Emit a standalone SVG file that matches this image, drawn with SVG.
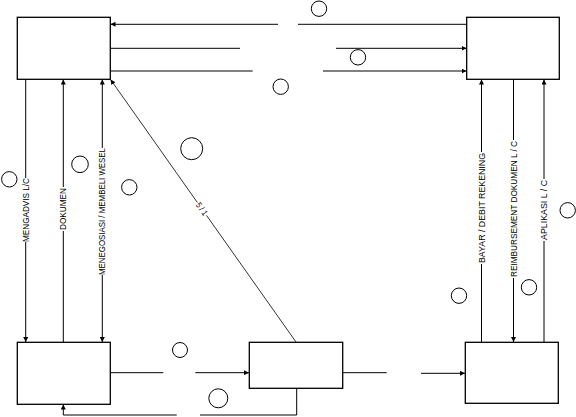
<svg xmlns="http://www.w3.org/2000/svg" width="576" height="417" viewBox="0 0 576 417">
<style>
.box{fill:#fff;stroke:#000;stroke-width:1.3}
.ln{fill:none;stroke:#000;stroke-width:1}
.thin{fill:none;stroke:#000;stroke-width:0.8}
.c{fill:none;stroke:#000;stroke-width:1}
.t{font-family:"Liberation Sans Narrow","Liberation Sans",Arial,sans-serif;font-size:8.5px;fill:#000}
</style>
<defs>
<marker id="ar" viewBox="0 0 6 6" refX="6" refY="3" markerUnits="userSpaceOnUse" markerWidth="5" markerHeight="5" orient="auto">
<path d="M0,0 L6,3 L0,6 z" fill="#000"/>
</marker>
</defs>
<rect width="576" height="417" fill="#fff"/>
<g id="connectors">
<!-- top horizontals -->
<line class="ln" x1="278" y1="24.3" x2="110.5" y2="24.3" marker-end="url(#ar)"/>
<line class="ln" x1="298" y1="24.3" x2="467" y2="24.3"/>
<line class="ln" x1="110" y1="48.3" x2="240" y2="48.3"/>
<line class="ln" x1="336" y1="48.3" x2="466.5" y2="48.3" marker-end="url(#ar)"/>
<line class="ln" x1="110" y1="71" x2="252.7" y2="71"/>
<line class="ln" x1="323" y1="71" x2="466.5" y2="71" marker-end="url(#ar)"/>
<!-- left verticals -->
<line class="ln" x1="25.7" y1="79" x2="25.7" y2="178"/>
<line class="ln" x1="25.7" y1="242" x2="25.7" y2="342" marker-end="url(#ar)"/>
<line class="ln" x1="63.3" y1="342" x2="63.3" y2="231"/>
<line class="ln" x1="63.3" y1="187" x2="63.3" y2="79.5" marker-end="url(#ar)"/>
<line class="ln" x1="102.3" y1="148" x2="102.3" y2="79.5" marker-end="url(#ar)"/>
<line class="ln" x1="102.3" y1="275" x2="102.3" y2="342" marker-end="url(#ar)"/>
<!-- diagonal -->
<line class="thin" x1="296" y1="342" x2="206.5" y2="215.4"/>
<line class="thin" x1="197.3" y1="202.4" x2="110.6" y2="79.6" marker-end="url(#ar)"/>
<!-- right verticals -->
<line class="ln" x1="481.5" y1="342" x2="481.5" y2="264"/>
<line class="ln" x1="481.5" y1="152" x2="481.5" y2="79.5" marker-end="url(#ar)"/>
<line class="ln" x1="513.5" y1="79" x2="513.5" y2="140"/>
<line class="ln" x1="513.5" y1="278" x2="513.5" y2="342" marker-end="url(#ar)"/>
<line class="ln" x1="544" y1="342" x2="544" y2="241"/>
<line class="ln" x1="544" y1="179" x2="544" y2="79.5" marker-end="url(#ar)"/>
<!-- bottom horizontals -->
<line class="ln" x1="110" y1="372.7" x2="163.3" y2="372.7"/>
<line class="ln" x1="195.3" y1="372.7" x2="249" y2="372.7" marker-end="url(#ar)"/>
<line class="ln" x1="342.7" y1="372.7" x2="386.7" y2="372.7"/>
<line class="ln" x1="421" y1="373.3" x2="465" y2="373.3" marker-end="url(#ar)"/>
<!-- bottom loop -->
<polyline class="ln" points="296.7,388.3 296.7,415 200,415"/>
<polyline class="ln" points="176.7,415 63.3,415 63.3,404.5" marker-end="url(#ar)"/>
</g>
<g id="node-top-left"><rect class="box" x="17.3" y="17.3" width="93" height="62"/></g>
<g id="node-top-right"><rect class="box" x="466.7" y="17.3" width="92.6" height="62"/></g>
<g id="node-bottom-left"><rect class="box" x="17.3" y="342.3" width="93" height="62"/></g>
<g id="node-bottom-middle"><rect class="box" x="249.3" y="342.3" width="93.4" height="46"/></g>
<g id="node-bottom-right"><rect class="box" x="465.3" y="342.3" width="93" height="61"/></g>
<g id="labels">
<text class="t" text-anchor="middle" textLength="64" lengthAdjust="spacingAndGlyphs" transform="translate(28.8,210) rotate(-90)">MENGADVIS L/C</text>
<text class="t" text-anchor="middle" textLength="42" lengthAdjust="spacingAndGlyphs" transform="translate(66.4,209) rotate(-90)">DOKUMEN</text>
<text class="t" text-anchor="middle" textLength="127" lengthAdjust="spacingAndGlyphs" transform="translate(105.4,211.5) rotate(-90)">MENEGOSIASI / MEMBELI WESEL</text>
<text class="t" text-anchor="middle" textLength="110" lengthAdjust="spacingAndGlyphs" transform="translate(484.6,208) rotate(-90)">BAYAR / DEBIT REKENING</text>
<text class="t" text-anchor="middle" textLength="136" lengthAdjust="spacingAndGlyphs" transform="translate(516.6,209) rotate(-90)">REIMBURSEMENT DOKUMEN L / C</text>
<text class="t" text-anchor="middle" textLength="60" lengthAdjust="spacingAndGlyphs" transform="translate(547.1,210) rotate(-90)">APLIKASI L / C</text>
<text class="t" text-anchor="middle" textLength="14" lengthAdjust="spacingAndGlyphs" transform="translate(201.9,208.9) rotate(54.7) translate(0,3)">5 / 1</text>
</g>
<g id="circles">
<circle class="c" cx="319" cy="8.7" r="7.7"/>
<circle class="c" cx="358" cy="57.3" r="7.7"/>
<circle class="c" cx="280.7" cy="86.7" r="7.7"/>
<circle class="c" cx="9.3" cy="179.3" r="7.7"/>
<circle class="c" cx="80" cy="164.3" r="8.3"/>
<circle class="c" cx="129.3" cy="187.3" r="7.7"/>
<circle class="c" cx="191.7" cy="148.7" r="11"/>
<circle class="c" cx="180" cy="350" r="7.5"/>
<circle class="c" cx="218.3" cy="398.3" r="9.5"/>
<circle class="c" cx="459" cy="295.7" r="7.7"/>
<circle class="c" cx="529" cy="287.3" r="7.7"/>
<circle class="c" cx="567.7" cy="210.3" r="7.7"/>
</g>
</svg>
